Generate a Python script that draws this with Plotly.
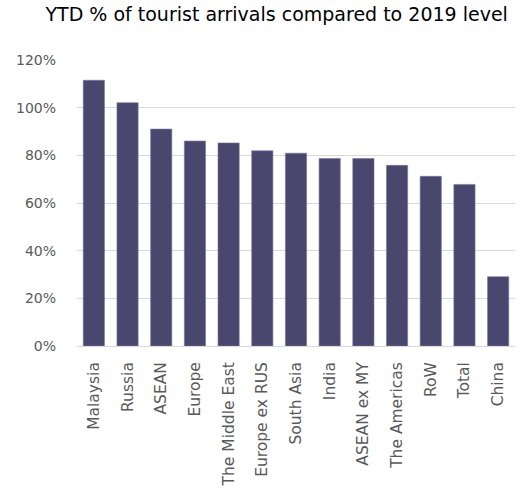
import plotly.graph_objects as go

categories = ["Malaysia", "Russia", "ASEAN", "Europe", "The Middle East", "Europe ex RUS",
              "South Asia", "India", "ASEAN ex MY", "The Americas", "RoW", "Total", "China"]
values = [111.5, 102.1, 91.0, 86.0, 85.2, 81.9, 80.9, 78.7, 78.7, 75.8, 71.2, 67.8, 29.1]
y_ticks = [0, 20, 40, 60, 80, 100, 120]
y_tick_labels = [f"{v}%" for v in y_ticks]

fig = go.Figure(go.Bar(
    x=categories, y=values,
    marker=dict(color="#4a476f", line=dict(color="#7a77a0", width=0.6)),
))

fig.update_layout(
    width=525, height=502,
    margin=dict(l=77, r=10, t=60, b=156),
    paper_bgcolor="white", plot_bgcolor="white",
    bargap=0.37,
    showlegend=False,
    font=dict(family="DejaVu Sans", color="#595959", size=14),
    title=dict(text="YTD % of tourist arrivals compared to 2019 level",
               x=0.527, xanchor="center", y=0.972, yanchor="middle",
               font=dict(family="DejaVu Sans", size=19, color="#000000")),
)
fig.update_yaxes(range=[0, 120], tickvals=y_ticks, ticktext=y_tick_labels,
                 showgrid=True, gridcolor="#d9d9d9", gridwidth=1,
                 zeroline=True, zerolinecolor="#d9d9d9", zerolinewidth=1,
                 showline=False, ticks="", ticklen=0, tickfont=dict(size=14),
                 ticklabelstandoff=20)
fig.update_xaxes(tickangle=-90, showline=False, ticks="", tickfont=dict(size=15.5),
                 ticklabelstandoff=12)

fig.write_html("out.html")
